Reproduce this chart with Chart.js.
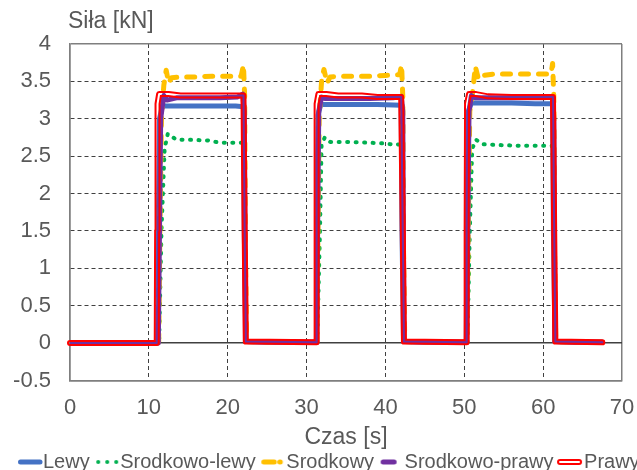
<!DOCTYPE html>
<html>
<head>
<meta charset="utf-8">
<script src="https://cdn.jsdelivr.net/npm/chart.js@4/dist/chart.umd.min.js"></script>
<style>
  html, body { margin: 0; padding: 0; background: #fff; overflow: hidden; }
  canvas { display: block; }
</style>
</head>
<body>
<canvas id="myChart" width="637" height="482"></canvas>
<script>
// czas [s] i siła [kN]
const timeLewy = [0, 11.1, 11.2, 11.35, 11.7, 13, 15, 17, 19, 21, 22.0, 22.1, 22.3, 25, 28,
  31.2, 31.3, 31.45, 31.8, 33, 36, 39, 42.0, 42.1, 42.3, 45, 48,
  50.25, 50.35, 50.5, 50.9, 53, 56, 59, 61.2, 61.3, 61.5, 64, 67.5];
const forceLewy = [0, 0, 1.6, 3.0, 3.17, 3.17, 3.17, 3.17, 3.17, 3.17, 3.16, 1.5, 0.02, 0.01, 0.01,
  0.01, 1.6, 3.05, 3.19, 3.19, 3.19, 3.19, 3.18, 1.5, 0.02, 0.01, 0.01,
  0.01, 1.6, 3.1, 3.21, 3.21, 3.21, 3.2, 3.2, 1.5, 0.02, 0.01, 0.01];

const timeSrLewy = [0, 11.3, 11.6, 12.0, 12.4, 13.5, 15, 17.5, 19, 21.8, 22.05, 22.25,
  31.35, 31.7, 31.9, 32.3, 33.0, 35, 38, 40, 41.2, 41.9, 42.15, 42.35,
  50.4, 50.7, 51.0, 51.5, 52.3, 54, 57, 60, 61.1, 61.3, 61.5, 67.5];
const forceSrLewy = [0, 0, 1.5, 2.6, 2.8, 2.72, 2.72, 2.71, 2.68, 2.68, 2.5, 0.02,
  0.01, 1.5, 2.64, 2.75, 2.69, 2.69, 2.68, 2.67, 2.65, 2.66, 2.4, 0.02,
  0.01, 1.5, 2.6, 2.72, 2.66, 2.65, 2.64, 2.64, 2.64, 2.4, 0.02, 0.01];

const timeSrodkowy = [0, 11.25, 11.4, 11.6, 11.9, 12.2, 12.5, 12.9, 14, 16, 18, 20, 21.7, 22.0, 22.15, 22.25, 22.4,
  31.3, 31.45, 31.6, 31.9, 32.2, 32.6, 33.0, 35, 38, 40, 41.8, 42.05, 42.2, 42.3, 42.45,
  50.35, 50.5, 50.7, 51.0, 51.4, 51.8, 52.3, 54, 57, 60, 61.0, 61.2, 61.35, 61.45, 61.6, 67.5];
const forceSrodkowy = [0, 0, 1.5, 3.0, 3.45, 3.65, 3.48, 3.55, 3.56, 3.56, 3.57, 3.57, 3.57, 3.72, 3.3, 1.2, 0.02,
  0.01, 1.5, 3.0, 3.5, 3.66, 3.48, 3.56, 3.57, 3.57, 3.58, 3.59, 3.72, 3.3, 1.2, 0.02,
  0.01, 1.5, 3.1, 3.3, 3.7, 3.53, 3.58, 3.6, 3.6, 3.6, 3.6, 3.74, 3.3, 1.2, 0.02, 0.01];

const timeSrPrawy = [0, 11.2, 11.35, 11.5, 11.9, 12.3, 13.5, 16, 19, 21.2, 21.9, 22.1, 22.25,
  31.25, 31.4, 31.55, 31.9, 32.4, 35, 38, 41, 42.0, 42.2, 42.35,
  50.3, 50.45, 50.6, 50.9, 51.4, 54, 57, 60, 61.2, 61.35, 61.5, 67.5];
const forceSrPrawy = [0, 0, 1.5, 3.0, 3.31, 3.25, 3.28, 3.28, 3.28, 3.29, 3.33, 3.1, 0.02,
  0.01, 1.5, 3.1, 3.29, 3.27, 3.27, 3.27, 3.28, 3.3, 3.1, 0.02,
  0.01, 1.5, 3.1, 3.31, 3.28, 3.28, 3.28, 3.28, 3.29, 3.0, 0.02, 0.01];

const timePrawy = [0, 11.0, 11.05, 11.1, 11.3, 12.5, 14, 17, 20, 22.0, 22.15, 22.3,
  31.2, 31.25, 31.3, 31.5, 32.5, 34, 37, 39, 42.0, 42.2, 42.35,
  50.25, 50.3, 50.35, 50.6, 51.5, 53, 56, 59, 61.25, 61.4, 61.55, 67.5];
const forcePrawy = [0, 0, 1.5, 3.2, 3.33, 3.33, 3.31, 3.31, 3.31, 3.31, 1.5, 0.02,
  0.01, 1.5, 3.2, 3.33, 3.33, 3.31, 3.31, 3.29, 3.29, 1.5, 0.02,
  0.01, 1.5, 3.2, 3.33, 3.33, 3.3, 3.29, 3.29, 3.29, 1.5, 0.02, 0.01];

const seriesNames = ['Lewy', 'Srodkowo-lewy', 'Srodkowy', 'Srodkowo-prawy', 'Prawy'];
const xTitle = 'Czas [s]';
const yTitle = 'Siła [kN]';

const BLUE = '#4472C4', GREEN = '#00B050', YELLOW = '#FFC000', PURPLE = '#7030A0', RED = '#FF0000';
const TEXT = '#595959';
const FONT = '"Liberation Sans", Arial, sans-serif';

const toPoints = (t, f) => t.map((x, i) => ({x: x, y: f[i]}));
const mk = (label, t, f, color, width, dash) => ({
  label: label,
  data: toPoints(t, f),
  borderColor: color,
  borderWidth: width,
  borderDash: dash || [],
  borderCapStyle: 'round',
  borderJoinStyle: 'round',
  pointRadius: 0,
  tension: 0,
  fill: false
});

// ikonki legendy
const makeSwatch = draw => {
  const c = document.createElement('canvas');
  c.width = 32; c.height = 10;
  const g = c.getContext('2d');
  g.lineCap = 'round';
  draw(g);
  return c;
};
const seg = (g, color, w, x1, x2) => {
  g.strokeStyle = color; g.lineWidth = w;
  g.beginPath(); g.moveTo(x1, 5); g.lineTo(x2, 5); g.stroke();
};
const swatches = [
  makeSwatch(g => seg(g, BLUE, 5, 9.5, 29)),
  makeSwatch(g => { g.fillStyle = GREEN; [10, 19, 28].forEach(x => { g.beginPath(); g.arc(x, 5, 2, 0, Math.PI * 2); g.fill(); }); }),
  makeSwatch(g => { seg(g, YELLOW, 5, 9.5, 20); seg(g, YELLOW, 5, 25.5, 26); }),
  makeSwatch(g => seg(g, PURPLE, 5, 10.5, 21.5)),
  makeSwatch(g => { seg(g, RED, 6, 8, 27); seg(g, '#fff', 2, 8, 27); })
];

const isEdgeX = ctx => ctx.tick && (ctx.tick.value === 0 || ctx.tick.value === 70);
const isEdgeY = ctx => ctx.tick && (ctx.tick.value === 4 || ctx.tick.value === -0.5);
const isZeroY = ctx => ctx.tick && ctx.tick.value === 0;

const yTitlePlugin = {
  id: 'yTitlePlugin',
  afterDraw(chart) {
    const c = chart.ctx;
    c.save();
    c.font = '23px ' + FONT;
    c.fillStyle = TEXT;
    c.textBaseline = 'middle';
    c.textAlign = 'left';
    c.fillText(yTitle, chart.chartArea.left - 2, 22);
    c.restore();
  }
};
const legendShift = {
  id: 'legendShift',
  afterLayout(chart) {
    chart.legend.left += 12.5;
    chart.legend.right += 12.5;
  }
};

// linia podwójna "Prawy": czerwony obrys z przezroczystym środkiem
const layer = document.createElement('canvas');
layer.width = 637; layer.height = 482;
const layerCtx = layer.getContext('2d');
const doubleLine = {
  id: 'doubleLine',
  beforeDatasetDraw(chart, args) {
    if (args.index === 1) {
      layerCtx.clearRect(0, 0, layer.width, layer.height);
      layerCtx.globalCompositeOperation = 'source-over';
      args.meta.controller._ctx = layerCtx;
    } else if (args.index === 0) {
      layerCtx.globalCompositeOperation = 'destination-out';
      args.meta.controller._ctx = layerCtx;
    }
  },
  afterDatasetDraw(chart, args) {
    if (args.index === 0) {
      layerCtx.globalCompositeOperation = 'source-over';
      chart.ctx.drawImage(layer, 0, 0);
    }
  }
};

const ctx = document.getElementById('myChart').getContext('2d');
const myChart = new Chart(ctx, {
  type: 'line',
  data: {
    datasets: [
      mk('Prawy-core', timePrawy, forcePrawy, '#000000', 2),
      mk(seriesNames[4], timePrawy, forcePrawy, RED, 6),
      mk(seriesNames[3], timeSrPrawy, forceSrPrawy, PURPLE, 5),
      mk(seriesNames[2], timeSrodkowy, forceSrodkowy, YELLOW, 5, [8, 10]),
      mk(seriesNames[1], timeSrLewy, forceSrLewy, GREEN, 4, [1, 7.5]),
      mk(seriesNames[0], timeLewy, forceLewy, BLUE, 5)
    ]
  },
  options: {
    responsive: false,
    animation: false,
    events: [],
    devicePixelRatio: 1,
    layout: { padding: { top: 44, right: 0, left: 0, bottom: 0 } },
    scales: {
      x: {
        type: 'linear',
        min: 0, max: 70,
        afterFit: s => { s.height = 63; s.paddingRight = 15; },
        ticks: { stepSize: 10, padding: 14, color: TEXT, font: { family: FONT, size: 22 } },
        grid: {
          drawTicks: false,
          color: c => isEdgeX(c) ? '#7f7f7f' : '#404040',
          lineWidth: c => isEdgeX(c) ? 1.5 : 1
        },
        border: { color: '#7f7f7f', width: 1.5, dash: c => isEdgeX(c) ? [] : [4, 3] },
        title: { display: true, text: xTitle, color: TEXT, font: { family: FONT, size: 23 }, padding: { top: 0, bottom: -8 } }
      },
      y: {
        min: -0.5, max: 4,
        afterFit: s => { s.width = 70; },
        ticks: { stepSize: 0.5, padding: 19, color: TEXT, font: { family: FONT, size: 22 }, callback: v => String(v) },
        grid: {
          drawTicks: false,
          color: c => isEdgeY(c) ? '#7f7f7f' : '#404040',
          lineWidth: c => (isEdgeY(c) || isZeroY(c)) ? 1.5 : 1
        },
        border: { color: '#7f7f7f', width: 1.5, dash: c => (isEdgeY(c) || isZeroY(c)) ? [] : [4, 3] }
      }
    },
    plugins: {
      tooltip: { enabled: false },
      legend: {
        position: 'bottom',
        align: 'start',
        labels: {
          usePointStyle: true,
          pointStyleWidth: 12,
          padding: 8.5,
          color: TEXT,
          font: { family: FONT, size: 20 },
          generateLabels: () => seriesNames.map((name, i) => ({
            text: name,
            pointStyle: swatches[i],
            fillStyle: 'transparent',
            strokeStyle: 'transparent',
            lineWidth: 0,
            fontColor: TEXT,
            hidden: false,
            datasetIndex: 5 - i
          }))
        }
      }
    }
  },
  plugins: [yTitlePlugin, legendShift, doubleLine]
});
</script>
</body>
</html>
